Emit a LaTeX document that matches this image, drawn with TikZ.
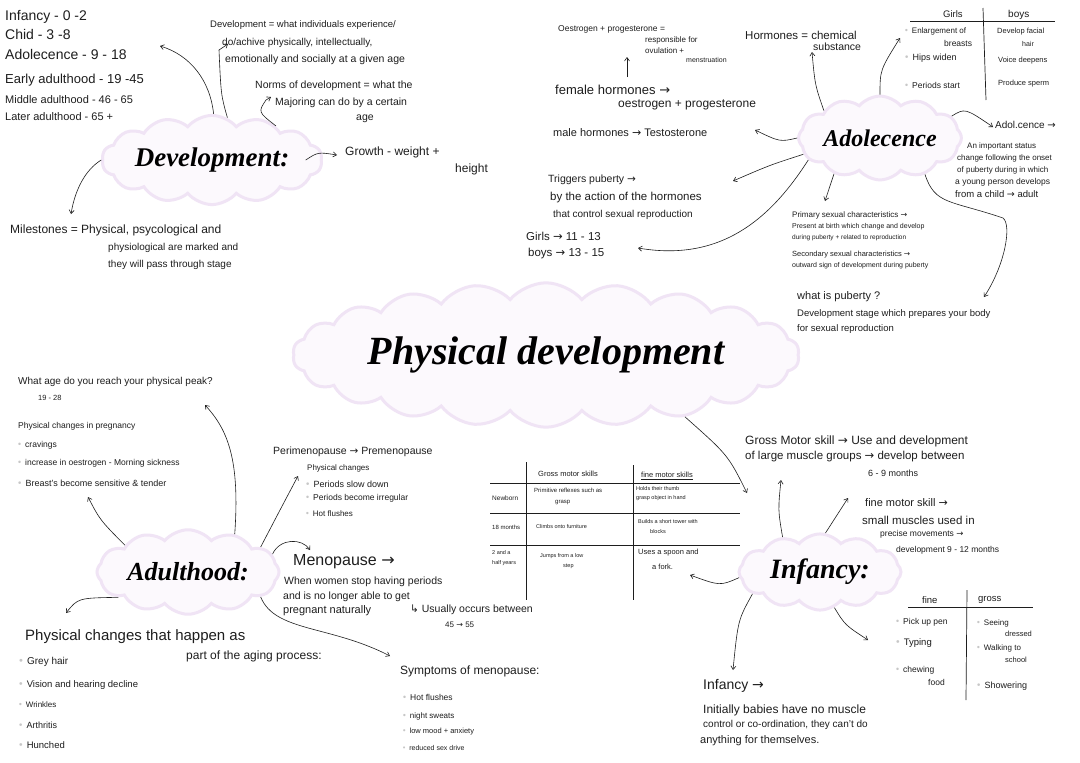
\documentclass[tikz,border=0pt]{standalone}
\usepackage{fontspec}
\setmainfont{Liberation Sans}
\newfontfamily\symf{DejaVu Sans}
\newfontfamily\titf{Liberation Serif}
\usetikzlibrary{shapes.symbols,arrows.meta}
\definecolor{cloudfill}{HTML}{FCF9FD}
\definecolor{cloudline}{HTML}{F0E4F5}
\definecolor{ink}{HTML}{1E1E1E}
\newcommand\hsz[1]{\fontsize{#1}{#1}\selectfont}
\newcommand\myra{{\symf →}}
\newcommand\mybl{{\color{black!22}\symf •}\hspace{3pt}}
\begin{document}
\begin{tikzpicture}[x=1pt,y=-1pt,
  txt/.style={anchor=west,inner sep=0pt,text=ink},
  s/.style={font=\hsz{#1}},
  con/.style={draw=ink,line width=0.6pt,-{Straight Barb[length=3.5pt,width=5pt]}},
  rule/.style={draw=ink,line width=0.7pt},
  ttl/.style={cloud,cloud puff arc=100,fill=cloudfill,draw=cloudline,line width=3pt,inner sep=0pt,text=black}]
\fill[white] (0,0) rectangle (1080,763);
\useasboundingbox (0,0) rectangle (1080,763);

% ---------- clouds / titles ----------
\node[ttl,cloud puffs=22,aspect=4.5,minimum width=490pt,minimum height=110pt,font=\titf\itshape\bfseries\hsz{40}] (mainc) at (546,355) {Physical development};
\node[ttl,cloud puffs=14,aspect=3.2,minimum width=208pt,minimum height=62pt,font=\titf\itshape\bfseries\hsz{27}] (devc) at (212,160) {Development:};
\node[ttl,cloud puffs=12,aspect=2.4,minimum width=158pt,minimum height=64pt,font=\titf\itshape\bfseries\hsz{24}] (adoc) at (880,138) {Adolecence};
\node[ttl,cloud puffs=12,aspect=2.6,minimum width=182pt,minimum height=68pt,font=\titf\itshape\bfseries\hsz{26}] (adulc) at (188,572) {Adulthood:};
\node[ttl,cloud puffs=12,aspect=2.3,minimum width=162pt,minimum height=70pt,font=\titf\itshape\bfseries\hsz{28}] (infc) at (820,572) {Infancy:};

% ---------- top-left ages ----------
\node[txt,s=14] (t1) at (5,17) {Infancy - 0 -2};
\node[txt,s=14] (t2) at (5,34) {Chid - 3 -8};
\node[txt,s=14] (t3) at (5,54) {Adolecence - 9 - 18};
\node[txt,s=13] (t4) at (5,80) {Early adulthood - 19 -45};
\node[txt,s=11] (t5) at (5,100) {Middle adulthood - 46 - 65};
\node[txt,s=11] (t6) at (5,117) {Later adulthood - 65 +};

% ---------- development notes ----------
\node[txt,s=9.5] (d1) at (210,25) {Development = what individuals experience/};
\node[txt,s=10] (d2) at (222,43) {do/achive physically, intellectually,};
\node[txt,s=10.5] (d3) at (225,60) {emotionally and socially at a given age};
\node[txt,s=10.5] (d4) at (255,86) {Norms of development = what the};
\node[txt,s=10.5] (d5) at (275,103) {Majoring can do by a certain};
\node[txt,s=10.5] (d6) at (356,119) {age};
\node[txt,s=12] (g1) at (345,152) {Growth - weight +};
\node[txt,s=12] (g2) at (455,169) {height};
\node[txt,s=12] (m1) at (10,230) {Milestones = Physical, psycological and};
\node[txt,s=10] (m2) at (108,248) {physiological are marked and};
\node[txt,s=10] (m3) at (108,265) {they will pass through stage};

% ---------- hormones ----------
\node[txt,s=8.5] (o1) at (558,29) {Oestrogen + progesterone =};
\node[txt,s=8] (o2) at (645,40) {responsible for};
\node[txt,s=8] (o3) at (645,51) {ovulation +};
\node[txt,s=7] (o4) at (686,60) {menstruation};
\node[txt,s=13] (f1) at (555,90) {female hormones \myra};
\node[txt,s=12] (f2) at (618,105) {oestrogen + progesterone};
\node[txt,s=11] (h1) at (553,133) {male hormones \myra\ Testosterone};
\node[txt,s=11.5] (hm1) at (745,35) {Hormones = chemical};
\node[txt,s=10.5] (hm2) at (813,47) {substance};
\node[txt,s=10.5] (tp1) at (548,180) {Triggers puberty \myra};
\node[txt,s=11.5] (tp2) at (550,198) {by the action of the hormones};
\node[txt,s=10] (tp3) at (553,215) {that control sexual reproduction};
\node[txt,s=11.5] (gb1) at (526,236) {Girls \myra\ 11 - 13};
\node[txt,s=11.5] (gb2) at (528,254) {boys \myra\ 13 - 15};

% ---------- girls / boys table ----------
\node[txt,s=9.5] (gh) at (943,14) {Girls};
\node[txt,s=10] (bh) at (1008,15) {boys};
\draw[rule] (910,21) -- (1055,21);
\draw[rule] (983,8) -- (986,100);
\node[txt,s=8] (gl1) at (904,31) {\mybl Enlargement of};
\node[txt,s=8.5] (gl2) at (944,43) {breasts};
\node[txt,s=9] (gl3) at (904,58) {\mybl Hips widen};
\node[txt,s=8.5] (gl4) at (904,85) {\mybl Periods start};
\node[txt,s=7.5] (bl1) at (997,32) {Develop facial};
\node[txt,s=7] (bl2) at (1022,44) {hair};
\node[txt,s=7.5] (bl3) at (998,61) {Voice deepens};
\node[txt,s=7.5] (bl4) at (998,84) {Produce sperm};

% ---------- adolescence definition ----------
\node[txt,s=10] (a1) at (995,125) {Adol.cence \myra};
\node[txt,s=8] (a2) at (967,146) {An important status};
\node[txt,s=8] (a3) at (957,158) {change following the onset};
\node[txt,s=8] (a4) at (957,170) {of puberty during in which};
\node[txt,s=8.5] (a5) at (955,182) {a young person develops};
\node[txt,s=9.5] (a6) at (955,194) {from a child \myra\ adult};

% ---------- sexual characteristics ----------
\node[txt,s=8] (p1) at (792,215) {Primary sexual characteristics \myra};
\node[txt,s=7] (p2) at (792,227) {Present at birth which change and develop};
\node[txt,s=6.5] (p3) at (792,238) {during puberty + related to reproduction};
\node[txt,s=7.5] (p4) at (792,255) {Secondary sexual characteristics \myra};
\node[txt,s=7] (p5) at (792,266) {outward sign of development during puberty};
\node[txt,s=11] (q1) at (797,297) {what is puberty ?};
\node[txt,s=9.5] (q2) at (797,314) {Development stage which prepares your body};
\node[txt,s=9.5] (q3) at (797,329) {for sexual reproduction};

% ---------- adulthood notes ----------
\node[txt,s=10] (w1) at (18,382) {What age do you reach your physical peak?};
\node[txt,s=7.5] (w2) at (38,398) {19 - 28};
\node[txt,s=8.5] (pr1) at (18,426) {Physical changes in pregnancy};
\node[txt,s=8.5] (pr2) at (17,445) {\mybl cravings};
\node[txt,s=8.5] (pr3) at (17,463) {\mybl increase in oestrogen - Morning sickness};
\node[txt,s=9] (pr4) at (17,483) {\mybl Breast's become sensitive \& tender};

\node[txt,s=10.5] (pe1) at (273,452) {Perimenopause \myra\ Premenopause};
\node[txt,s=8] (pe2) at (307,468) {Physical changes};
\node[txt,s=9] (pe3) at (305,484) {\mybl Periods slow down};
\node[txt,s=8.5] (pe4) at (305,498) {\mybl Periods become irregular};
\node[txt,s=8] (pe5) at (305,514) {\mybl Hot flushes};
\node[txt,s=16] (me1) at (293,562) {Menopause \myra};
\node[txt,s=10.5] (me2) at (284,582) {When women stop having periods};
\node[txt,s=10.5] (me3) at (283,597) {and is no longer able to get};
\node[txt,s=11] (me4) at (283,611) {pregnant naturally};
\node[txt,s=10.5] (me5) at (410,610) {{\symf ↳} Usually occurs between};
\node[txt,s=8] (me6) at (445,625) {45 \myra\ 55};
\node[txt,s=12] (sy1) at (400,671) {Symptoms of menopause:};
\node[txt,s=8.5] (sy2) at (402,697) {\mybl Hot flushes};
\node[txt,s=8] (sy3) at (402,716) {\mybl night sweats};
\node[txt,s=7.5] (sy4) at (402,732) {\mybl low mood + anxiety};
\node[txt,s=7] (sy5) at (402,748) {\mybl reduced sex drive};

\node[txt,s=15] (ag1) at (25,637) {Physical changes that happen as};
\node[txt,s=12] (ag2) at (186,656) {part of the aging process:};
\node[txt,s=10] (ag3) at (18,662) {\mybl Grey hair};
\node[txt,s=9.5] (ag4) at (18,685) {\mybl Vision and hearing decline};
\node[txt,s=8] (ag5) at (18,705) {\mybl Wrinkles};
\node[txt,s=9] (ag6) at (18,725) {\mybl Arthritis};
\node[txt,s=9.5] (ag7) at (18,745) {\mybl Hunched};

% ---------- motor skills table ----------
\draw[rule] (526,462) -- (526,600);
\draw[rule] (633,465) -- (633,600);
\draw[rule] (490,483) -- (740,483);
\draw[rule] (490,513) -- (740,513);
\draw[rule] (490,545) -- (740,545);
\node[txt,s=7.5] (tg) at (538,474) {Gross motor skills};
\node[txt,s=7.5] (tf) at (641,476) {\underline{fine motor skills}};
\node[txt,s=6.5] (r1a) at (492,498) {Newborn};
\node[txt,s=6] (r1b) at (534,490) {Primitive reflexes such as};
\node[txt,s=6] (r1c) at (555,503) {grasp};
\node[txt,s=5.5] (r1d) at (636,489) {Holds their thumb};
\node[txt,s=5.5] (r1e) at (636,498) {grasp object in hand};
\node[txt,s=6] (r2a) at (492,527) {18 months};
\node[txt,s=5.5] (r2b) at (536,527) {Climbs onto furniture};
\node[txt,s=5.5] (r2c) at (638,522) {Builds a short tower with};
\node[txt,s=5.5] (r2d) at (650,532) {blocks};
\node[txt,s=5.5] (r3a) at (492,553) {2 and a};
\node[txt,s=5.5] (r3b) at (492,563) {half years};
\node[txt,s=5.5] (r3c) at (540,556) {Jumps from a low};
\node[txt,s=5.5] (r3d) at (563,566) {step};
\node[txt,s=7.5] (r3e) at (638,553) {Uses a spoon and};
\node[txt,s=7.5] (r3f) at (652,567) {a fork.};

% ---------- infancy notes ----------
\node[txt,s=12] (i1) at (745,441) {Gross Motor skill \myra\ Use and development};
\node[txt,s=11.5] (i2) at (745,457) {of large muscle groups \myra\ develop between};
\node[txt,s=9] (i3) at (868,473) {6 - 9 months};
\node[txt,s=11] (i4) at (865,503) {fine motor skill \myra};
\node[txt,s=11.5] (i5) at (862,520) {small muscles used in};
\node[txt,s=8.5] (i6) at (880,534) {precise movements \myra};
\node[txt,s=8.5] (i7) at (896,550) {development 9 - 12 months};
\node[txt,s=14] (i8) at (703,686) {Infancy \myra};
\node[txt,s=12] (i9) at (703,710) {Initially babies have no muscle};
\node[txt,s=10] (i10) at (703,725) {control or co-ordination, they can't do};
\node[txt,s=11] (i11) at (700,741) {anything for themselves.};

\node[txt,s=9.5] (fh) at (922,600) {fine};
\node[txt,s=9.5] (gh2) at (978,600) {gross};
\draw[rule] (908,607) -- (1033,607);
\draw[rule] (967,590) -- (966,700);
\node[txt,s=8.5] (fl1) at (895,622) {\mybl Pick up pen};
\node[txt,s=9.5] (fl2) at (895,643) {\mybl Typing};
\node[txt,s=8.5] (fl3) at (895,670) {\mybl chewing};
\node[txt,s=8.5] (fl4) at (928,682) {food};
\node[txt,s=8] (gl5) at (976,623) {\mybl Seeing};
\node[txt,s=7.5] (gl6) at (1005,634) {dressed};
\node[txt,s=8] (gl7) at (976,648) {\mybl Walking to};
\node[txt,s=7.5] (gl8) at (1005,660) {school};
\node[txt,s=9] (gl9) at (976,686) {\mybl Showering};

% ---------- connector end points ----------
\coordinate (eA1) at (160,46);
\coordinate (eA2) at (228,44);
\coordinate (eA3) at (271,97);
\coordinate (eA4) at (337,155);
\coordinate (eA5) at (71,214);
\coordinate (eB1) at (812,52);
\coordinate (eB2) at (900,38);
\coordinate (eB3) at (755,130);
\coordinate (eB4) at (733,181);
\coordinate (eB5) at (638,248);
\coordinate (eB6) at (825,201);
\coordinate (eB7) at (993,127);
\coordinate (eB8) at (984,297);
\coordinate (eC1) at (205,405);
\coordinate (eC2) at (88,497);
\coordinate (eC3) at (298,476);
\coordinate (eC4) at (310,550);
\coordinate (eC5) at (390,656);
\coordinate (eC6) at (66,613);
\coordinate (eD1) at (781,480);
\coordinate (eD2) at (848,498);
\coordinate (eD3) at (690,575);
\coordinate (eD4) at (733,670);
\coordinate (eD5) at (868,640);
\coordinate (eM1) at (747,493);
\coordinate (sF) at (627,77);
\coordinate (eF) at (627,57);

% ---------- connectors ----------
\draw[con] (devc.88) .. controls (210,80) and (190,55) .. (eA1);
\draw[con] (devc.70) .. controls (221,95) .. (219,50) -- (eA2);
\draw[con] (devc.28) .. controls (258,112) .. (266,100) -- (eA3);
\draw[con] ([xshift=-17pt]devc.east) .. controls (318,152) .. (eA4);
\draw[con] (devc.west) .. controls (85,170) and (75,190) .. (eA5);

\draw[con] (adoc.154) .. controls (815,85) .. (eB1);
\draw[con] (adoc.north) .. controls (880,70) .. (eB2);
\draw[con] (adoc.west) .. controls (780,142) .. (eB3);
\draw[con] (adoc.192) .. controls (770,165) .. (eB4);
\draw[con] (adoc.197) .. controls (770,220) and (720,262) .. (eB5);
\draw[con] (adoc.218) -- (eB6);
\draw[con] (adoc.17) .. controls (965,108) .. (eB7);
\draw[con] (adoc.321) .. controls (935,205) and (950,200) .. (1003,218) .. controls (1012,225) and (1005,265) .. (eB8);

\draw[con] (adulc.39) .. controls (240,460) and (228,430) .. (eC1);
\draw[con] (adulc.157) .. controls (100,520) .. (eC2);
\draw[con] (adulc.19) .. controls (280,510) .. (eC3);
\draw[con] (adulc.12) .. controls (280,538) and (302,538) .. (eC4);
\draw[con] (adulc.341) .. controls (275,632) and (330,625) .. (eC5);
\draw[con] (adulc.200) .. controls (78,598) .. (eC6);

\draw[con] (infc.137) .. controls (778,510) .. (eD1);
\draw[con] (infc.82) -- (eD2);
\draw[con] (infc.184) .. controls (720,586) .. (eD3);
\draw[con] (infc.198) .. controls (738,620) .. (eD4);
\draw[con] (infc.292) .. controls (845,625) .. (eD5);

\draw[con] (mainc.336) .. controls (728,455) .. (eM1);
\draw[con] (sF) -- (eF);
\end{tikzpicture}
\end{document}
